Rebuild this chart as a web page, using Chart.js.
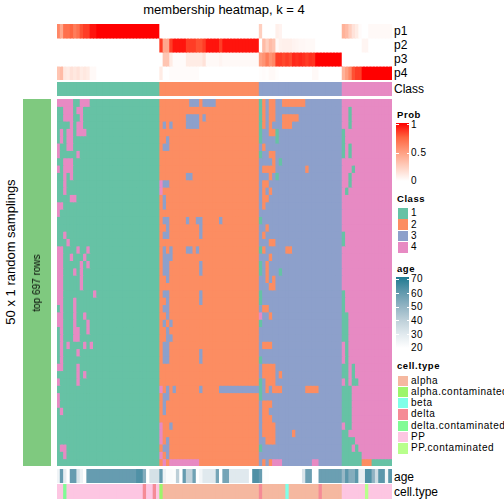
<!DOCTYPE html>
<html>
<head>
<meta charset="utf-8">
<title>membership heatmap</title>
<script src="https://cdn.jsdelivr.net/npm/chart.js@4"></script>
<style>
  html, body { margin: 0; padding: 0; background: #fff; }
  #page { position: relative; width: 504px; height: 504px; overflow: hidden; font-family: "Liberation Sans", Arial, sans-serif; color: #000; }
  #page canvas { position: absolute; }
  .txt { position: absolute; white-space: nowrap; line-height: 1; transform: translateY(-50%); }
  .rot { position: absolute; white-space: nowrap; line-height: 1; transform: translate(-50%, -50%) rotate(-90deg); }
  .legend { font-size: 10px; letter-spacing: 0.55px; }
  .legend-title { font-size: 9.5px; font-weight: bold; letter-spacing: 0.55px; }
  .box { position: absolute; }
</style>
</head>
<body>
<div id="page"></div>
<script>
const classNames = ['1', '2', '3', '4'];
const classColors = ['#66C2A5', '#FC8D62', '#8DA0CB', '#E78AC3'];
// columns of each class, left to right
const classCounts = [31, 30, 25, 15];

const p1 = [
  .6, .45, .7, .7, .75, .65, .7, .8, .85, .85, .95, .95, 1, 1, 1, 1, 1, 1, 1, 1, 1, 1, 1, 1, 1, 1, 1, 1, 1, 1, 1,
  0, 0, 0, 0, 0, 0, 0, 0, 0, 0, 0, 0, 0, 0, 0, 0, 0, 0, 0, 0, 0, 0, 0, 0, 0, 0, 0, 0, 0, 0,
  .25, 0, 0, 0, 0, .08, .06, 0, 0, 0, 0, 0, 0, 0, 0, 0, 0, 0, 0, 0, 0, 0, 0, 0, 0,
  .4, .35, .25, .15, .1, .02, 0, 0, .03, .03, .03, .03, .03, .03, .03
];
const p2 = [
  0, 0, 0, 0, 0, 0, 0, 0, 0, 0, 0, 0, 0, 0, 0, 0, 0, 0, 0, 0, 0, 0, 0, 0, 0, 0, 0, 0, 0, 0, 0,
  .85, .45, .45, .85, .95, .95, .95, .95, .85, .85, .85, .8, .8, .85, .95, .95, .95, .95, .85, .95, .95, .95, .95, .95, .95, .95, .95, .95, .95, .95,
  0, .35, .25, .35, .3, .03, .07, .08, .08, .08, .06, .05, .04, .04, .03, .03, .03, 0, 0, 0, 0, 0, 0, 0, 0,
  0, 0, 0, 0, 0, 0, .05, .05, 0, 0, 0, 0, 0, 0, 0
];
const p3 = [
  0, 0, 0, 0, 0, 0, 0, 0, 0, 0, 0, 0, 0, 0, 0, 0, 0, 0, 0, 0, 0, 0, 0, 0, 0, 0, 0, 0, 0, 0, 0,
  0, .3, .3, .1, .02, .02, .02, .02, .1, .1, .1, .1, .1, .15, .03, .03, .03, .03, .05, .03, .03, .03, .03, .03, .03, .03, .03, .03, .03, .03,
  .5, .55, .65, .55, .6, .85, .85, .82, .85, .82, .9, .88, .9, .88, .85, .88, .87, 1, 1, 1, 1, 1, 1, 1, 1,
  0, 0, 0, 0, 0, 0, 0, 0, 0, 0, 0, 0, 0, 0, 0
];
const p4 = [
  .3, .35, .12, .1, .15, .12, .15, .1, .12, .1, .03, .03, 0, 0, 0, 0, 0, 0, 0, 0, 0, 0, 0, 0, 0, 0, 0, 0, 0, 0, 0,
  .1, 0, 0, .02, .02, .02, .02, .02, .02, .02, .02, .02, 0, 0, 0, 0, 0, 0, 0, 0, 0, 0, 0, 0, 0, 0, 0, 0, 0, 0,
  .01, .02, .01, .03, .03, .01, 0, 0, 0, 0, 0, 0, 0, 0, 0, 0, .03, .03, 0, 0, 0, 0, 0, 0, 0,
  .4, .5, .6, .8, .85, .85, 1, 1, 1, 1, 1, 1, 1, 1, 1
];
const probRows = ['p1', 'p2', 'p3', 'p4'];
const probTicks = ['1', '0.5', '0'];

const age = [
  25, 58, 28, 20, 58, 58, 32, 26, 20, 58, 58, 58, 58, 58, 58, 58, 58, 58, 58, 58, 58, 58, 58, 58, 62, 62, 52, 20, 33, 33, 33,
  58, 26, 22, 22, 21, 40, 20, 58, 38, 38, 56, 20, 24, 30, 30, 30, 30, 55, 20, 55, 55, 30, 30, 30, 30, 30, 30, 20, 62, 62,
  58, 21, 21, 20, 20, 20, 20, 20, 20, 20, 20, 20, 20, 32, 57, 57, 20, 20, 57, 57, 57, 57, 57, 57, 57,
  48, 60, 52, 52, 60, 28, 28, 62, 62, 50, 35, 60, 60, 24, 60
];
const ageTicks = ['70', '60', '50', '40', '30', '20'];

const cellTypes = ['alpha', 'alpha.contaminated', 'beta', 'delta', 'delta.contaminated', 'PP', 'PP.contaminated'];
const cellTypeColors = ['#F5B8A0', '#9CF56B', '#7FFFE8', '#F58B96', '#80FB95', '#FDC6E2', '#B8FF8C'];
const cellType = [
  5, 5, 4, 5, 5, 5, 5, 5, 5, 5, 5, 5, 5, 5, 5, 5, 5, 5, 5, 5, 5, 5, 5, 5, 5, 5, 3, 5, 5, 3, 5,
  1, 0, 0, 0, 0, 0, 0, 0, 0, 0, 0, 0, 0, 0, 0, 0, 0, 0, 0, 0, 0, 0, 0, 0, 0, 0, 0, 0, 0, 0,
  3, 0, 0, 0, 0, 0, 0, 0, 2, 0, 0, 0, 0, 0, 0, 0, 0, 0, 3, 0, 0, 0, 0, 0, 0,
  5, 5, 5, 5, 5, 5, 5, 6, 5, 5, 5, 5, 5, 5, 5
];

// for each of the 50 rows: [first column, last column, class] where a row differs from its column's class
const rowSwaps = [
  [[0,4,4],[7,9,4],[40,42,3],[44,47,3],[61,61,1],[62,62,2],[64,65,2],[68,74,2]],
  [[2,4,4],[6,7,4],[61,61,1],[62,62,2],[64,65,2],[88,88,1]],
  [[2,4,4],[7,7,4],[39,42,3],[44,44,3],[61,61,1],[62,62,2],[64,65,2],[68,72,2],[88,88,1]],
  [[4,4,4],[6,7,4],[32,32,3],[34,34,3],[39,42,3],[61,61,1],[62,62,2],[64,64,2],[68,70,2],[88,88,1]],
  [[1,1,4],[3,4,4],[6,8,4],[61,61,1],[64,65,2],[66,66,1],[86,86,1]],
  [[1,1,4],[3,4,4],[33,33,3],[61,61,1],[66,66,1],[86,86,1]],
  [[0,0,4],[3,4,4],[32,33,3],[62,62,2],[86,86,1],[88,88,1]],
  [[0,0,4],[6,6,4],[61,61,1],[64,65,2],[86,86,1],[88,88,1]],
  [[2,4,4],[65,65,2],[67,67,1]],
  [[0,0,4],[2,4,4],[62,65,2],[75,75,2],[89,89,1]],
  [[2,2,4],[4,4,4],[39,40,3],[64,64,2],[66,66,1],[88,88,1]],
  [[2,2,4],[31,31,4],[32,33,3],[62,63,2],[88,88,1]],
  [[2,2,4],[31,31,4],[62,62,2],[64,64,2],[87,87,1]],
  [[4,5,4],[32,32,3],[62,63,2]],
  [[0,1,4],[32,32,3],[62,62,2]],
  [[0,0,4]],
  [[32,33,3],[39,39,3],[42,43,3],[49,49,3],[61,61,1]],
  [[33,33,3],[43,43,3],[63,63,2]],
  [[2,2,4],[32,33,3],[43,43,3],[62,62,2],[86,86,1]],
  [[3,3,4],[64,65,2],[86,86,1]],
  [[0,1,4],[6,6,4],[9,9,4],[32,32,3],[34,34,3],[39,40,3],[42,42,3],[61,61,1],[62,62,2],[69,70,2]],
  [[0,1,4],[4,4,4],[8,8,4],[32,34,3],[64,64,2]],
  [[0,1,4],[7,7,4],[9,9,4],[32,33,3],[43,43,3],[61,61,1],[63,63,2]],
  [[0,1,4],[5,5,4],[7,7,4],[32,33,3],[43,43,3],[61,61,1],[63,63,2],[67,67,1]],
  [[0,1,4],[7,7,4],[33,33,3],[63,63,2],[65,65,2]],
  [[0,1,4],[7,7,4],[64,65,2]],
  [[0,1,4],[11,11,4],[32,33,3],[43,43,3],[61,61,1],[86,86,1]],
  [[0,1,4],[5,5,4],[33,33,3],[43,43,3],[61,61,1],[86,86,1]],
  [[1,1,4],[5,5,4],[32,33,3],[62,63,2],[86,86,1]],
  [[0,1,4],[5,5,4],[8,8,4],[33,33,3],[61,61,4],[64,64,2],[86,87,1]],
  [[0,1,4],[5,5,4],[9,9,4],[32,32,3],[34,34,3],[61,61,1],[86,87,1]],
  [[1,1,4],[5,6,4],[9,9,4],[33,33,3],[86,87,1]],
  [[1,1,4],[5,6,4],[33,34,3],[86,87,1]],
  [[1,1,4],[3,3,4],[8,8,4],[10,10,4],[32,33,3],[62,64,2],[87,87,1]],
  [[1,1,4],[6,6,4],[32,33,3],[43,43,3],[87,87,1]],
  [[1,1,4],[32,33,3],[43,43,3],[61,61,1],[87,87,1]],
  [[0,1,4],[6,6,4],[62,65,2],[86,87,1],[89,89,1]],
  [[6,6,4],[8,8,4],[62,65,2],[67,67,2],[86,87,1],[89,89,1]],
  [[0,0,4],[6,6,4],[61,61,1],[63,65,2],[87,87,1],[89,90,1]],
  [[31,31,4],[33,33,3],[35,35,3],[43,43,3],[49,60,3],[61,61,1],[63,63,2],[65,67,2],[75,78,2],[86,88,1]],
  [[0,0,4],[32,33,3],[61,61,1],[86,88,1]],
  [[0,0,4],[32,32,3],[62,64,2],[86,88,1]],
  [[1,1,4],[32,32,3],[62,63,2],[86,88,1]],
  [[62,64,2],[86,88,1]],
  [[31,31,4],[34,34,3],[62,65,2],[87,88,1]],
  [[31,31,4],[62,65,2],[71,71,2],[86,87,1]],
  [[31,31,4],[33,33,3],[63,65,2],[86,89,1]],
  [[1,2,4],[32,33,3],[61,61,1],[86,88,1],[90,90,1]],
  [[2,2,4],[31,31,4],[33,33,3],[86,91,1]],
  [[32,32,4],[34,42,4],[62,62,2],[64,64,2],[65,67,4],[77,78,4],[86,91,1],[92,94,2],[95,100,1]]
];

const probStops = ['#FFFFFF', '#FFCFBF', '#FF9E80', '#FF6540', '#FF0000'];
const ageStops = ['#FFFFFF', '#E0E9EE', '#BCCFD8', '#8FB2C2', '#5C97AB', '#1F7A91'];

function hexToRgb(hex) {
  return [1, 3, 5].map(i => parseInt(hex.slice(i, i + 2), 16));
}

function ramp(stops, t) {
  const pos = Math.min(Math.max(t, 0), 1) * (stops.length - 1);
  const i = Math.min(Math.floor(pos), stops.length - 2);
  const a = hexToRgb(stops[i]);
  const b = hexToRgb(stops[i + 1]);
  const c = a.map((v, k) => Math.round(v + (b[k] - v) * (pos - i)));
  return `rgb(${c[0]},${c[1]},${c[2]})`;
}

const page = document.getElementById('page');

// every panel is a stacked bar chart: one dataset per row, coloured column by column
function heatPanel(left, top, width, height, rowColors) {
  const canvas = document.createElement('canvas');
  canvas.width = width;
  canvas.height = height;
  canvas.style.left = left + 'px';
  canvas.style.top = top + 'px';
  canvas.style.width = width + 'px';
  canvas.style.height = height + 'px';
  page.appendChild(canvas);
  return new Chart(canvas, {
    type: 'bar',
    data: {
      labels: rowColors[0].map((c, i) => i),
      datasets: rowColors.map(colors => ({
        data: colors.map(() => 1),
        backgroundColor: colors,
        borderWidth: 0,
        inflateAmount: 0.5,
        barPercentage: 1,
        categoryPercentage: 1
      }))
    },
    options: {
      responsive: false,
      animation: false,
      events: [],
      layout: { padding: 0 },
      plugins: { legend: { display: false }, tooltip: { enabled: false } },
      scales: {
        x: { display: false, stacked: true },
        y: { display: false, stacked: true, reverse: true, min: 0, max: rowColors.length }
      }
    }
  });
}

function addText(text, x, y, size, cls) {
  const el = document.createElement('div');
  el.className = 'txt ' + (cls || '');
  el.textContent = text;
  el.style.left = x + 'px';
  el.style.top = y + 'px';
  if (size) el.style.fontSize = size + 'px';
  page.appendChild(el);
  return el;
}

function addRotated(text, x, y, size) {
  const el = document.createElement('div');
  el.className = 'rot';
  el.textContent = text;
  el.style.left = x + 'px';
  el.style.top = y + 'px';
  el.style.fontSize = size + 'px';
  page.appendChild(el);
}

function addBox(x, y, w, h, background) {
  const el = document.createElement('div');
  el.className = 'box';
  el.style.left = x + 'px';
  el.style.top = y + 'px';
  el.style.width = w + 'px';
  el.style.height = h + 'px';
  el.style.background = background;
  page.appendChild(el);
}

function colorBar(x, y, w, h, stops, tickYs) {
  addBox(x, y, w, h, `linear-gradient(to top, ${stops.join(', ')})`);
  tickYs.forEach(t => {
    addBox(x, t, 2.5, 1, '#fff');
    addBox(x + w - 2.5, t, 2.5, 1, '#fff');
  });
}

const columnClass = [];
classCounts.forEach((n, c) => {
  for (let i = 0; i < n; i++) columnClass.push(c + 1);
});

const mainRows = rowSwaps.map(swaps => {
  const row = columnClass.slice();
  swaps.forEach(([from, to, cls]) => {
    for (let i = from; i <= to; i++) row[i] = cls;
  });
  return row.map(c => classColors[c - 1]);
});

const plotLeft = 57;
const plotWidth = 335;

heatPanel(plotLeft, 24, plotWidth, 56, [p1, p2, p3, p4].map(row => row.map(v => ramp(probStops, v))));
heatPanel(plotLeft, 82, plotWidth, 14, [columnClass.map(c => classColors[c - 1])]);
heatPanel(plotLeft, 99, plotWidth, 367, mainRows);
heatPanel(plotLeft, 469, plotWidth, 14, [age.map(v => ramp(ageStops, (v - 20) / 50))]);
heatPanel(plotLeft, 484, plotWidth, 15, [cellType.map(i => cellTypeColors[i])]);
heatPanel(23, 99, 28, 367, [['#7FC97F']]);

// titles and annotation names
const title = addText('membership heatmap, k = 4', 224, 9, 13);
title.style.transform = 'translate(-50%, -50%)';
addRotated('50 x 1 random samplings', 10, 252, 13);
addRotated('top 697 rows', 37, 283, 10);
probRows.forEach((name, i) => addText(name, 394, 31 + i * 14, 12));
addText('Class', 394, 89, 12);
addText('age', 394, 477, 12);
addText('cell.type', 394, 492, 12);

// legends
addText('Prob', 397, 115, null, 'legend-title');
colorBar(396, 123, 13, 58, probStops, [124, 153]);
[125, 153, 181].forEach((y, i) => addText(probTicks[i], 411, y, null, 'legend'));

addText('Class', 397, 199, null, 'legend-title');
[213.3, 224.5, 236, 247.3].forEach((y, i) => {
  addBox(397.5, y - 5.2, 10.5, 10.5, classColors[i]);
  addText(classNames[i], 411, y, null, 'legend');
});

addText('age', 397, 269, null, 'legend-title');
colorBar(396, 277, 13, 71, ageStops, [279, 293, 307, 320, 334]);
[279.3, 293.7, 307, 320.7, 334.7, 348.3].forEach((y, i) => addText(ageTicks[i], 411, y, null, 'legend'));

addText('cell.type', 397, 366, null, 'legend-title');
[380.7, 391.7, 402.7, 414.3, 425.7, 436.7, 448.3].forEach((y, i) => {
  addBox(397.5, y - 5.2, 10.5, 10.5, cellTypeColors[i]);
  addText(cellTypes[i], 411, y, null, 'legend');
});
</script>
</body>
</html>
